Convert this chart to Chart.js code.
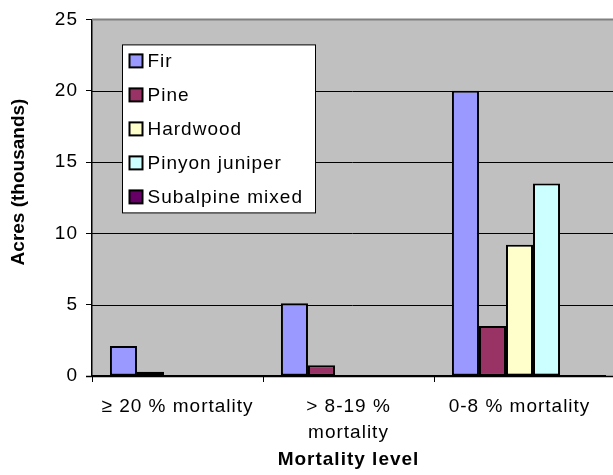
<!DOCTYPE html>
<html lang="en">
<head>
    <meta charset="UTF-8">
    <title>Acres by mortality level and forest type</title>
    <script src="https://cdn.jsdelivr.net/npm/chart.js"></script>
    <style>
        body {
            margin: 0;
            padding: 0;
            background: #fff;
        }
        #wrap {
            width: 613px;
            height: 475px;
        }
    </style>
</head>
<body>
    <div id="wrap"><canvas id="mortChart" width="613" height="475"></canvas></div>
    <script>
        // categories (mortality level) and acres in thousands per forest type
        const categories = ['≥ 20 % mortality', ['> 8-19 %', 'mortality'], '0-8 % mortality'];
        const fir = [2.1, 5.1, 20];
        const pine = [0.3, 0.75, 3.5];
        const hardwood = [0, 0, 9.2];
        const pinyonJuniper = [0, 0, 13.5];
        const subalpineMixed = [0, 0, 0.05];
        const yTicks = [0, 5, 10, 15, 20, 25];

        const FONT = 'Arial, "Liberation Sans", sans-serif';
        Chart.defaults.font.family = FONT;
        Chart.defaults.color = '#000';

        const series = [
            { label: 'Fir', data: fir, color: '#9999FF' },
            { label: 'Pine', data: pine, color: '#993366' },
            { label: 'Hardwood', data: hardwood, color: '#FFFFCC' },
            { label: 'Pinyon juniper', data: pinyonJuniper, color: '#CCFFFF' },
            { label: 'Subalpine mixed', data: subalpineMixed, color: '#660066' }
        ];

        // the old office chart text is a bit wider than plain Arial
        const spacing = '1px';

        // gray plot background, gridlines, y title and the legend box inside the plot
        const excelLook = {
            id: 'excelLook',
            beforeUpdate(chart) {
                chart.ctx.letterSpacing = spacing;
            },
            beforeDraw(chart) {
                const { ctx, chartArea: a } = chart;
                ctx.letterSpacing = spacing;
                ctx.save();
                ctx.fillStyle = '#C0C0C0';
                ctx.fillRect(a.left, a.top, chart.width - a.left, a.bottom - a.top);
                ctx.restore();
            },
            beforeDatasetsDraw(chart) {
                const { ctx, chartArea: a, scales } = chart;
                ctx.save();
                ctx.strokeStyle = '#000';
                ctx.lineWidth = 1;
                yTicks.forEach(v => {
                    if (v === 0 || v === 25) return;
                    const y = Math.round(scales.y.getPixelForValue(v)) + 0.5;
                    ctx.beginPath();
                    ctx.moveTo(a.left, y);
                    ctx.lineTo(chart.width, y);
                    ctx.stroke();
                });
                ctx.restore();
            },
            afterDatasetsDraw(chart) {
                const { ctx, chartArea: a, scales } = chart;
                ctx.save();
                // top border of plot area
                ctx.strokeStyle = '#808080';
                ctx.lineWidth = 2;
                ctx.beginPath();
                ctx.moveTo(a.left, a.top);
                ctx.lineTo(chart.width, a.top);
                ctx.stroke();
                // x axis line across the whole width
                const y0 = Math.round(scales.y.getPixelForValue(0)) + 0.5;
                ctx.strokeStyle = '#000';
                ctx.lineWidth = 1.5;
                ctx.beginPath();
                ctx.moveTo(a.left - 6, y0);
                ctx.lineTo(chart.width, y0);
                ctx.stroke();

                // y axis title (not stretched in the original)
                ctx.letterSpacing = '0px';
                ctx.font = 'bold 19px ' + FONT;
                ctx.fillStyle = '#000';
                ctx.textAlign = 'center';
                ctx.textBaseline = 'middle';
                ctx.translate(19, 182);
                ctx.rotate(-Math.PI / 2);
                ctx.fillText('Acres (thousands)', 0, 0);
                ctx.setTransform(1, 0, 0, 1, 0, 0);

                // legend
                ctx.letterSpacing = spacing;
                const bx = a.left + 30.5, by = a.top + 25.5, bw = 193, bh = 168;
                ctx.fillStyle = '#fff';
                ctx.fillRect(bx, by, bw, bh);
                ctx.strokeStyle = '#000';
                ctx.lineWidth = 1;
                ctx.strokeRect(bx, by, bw, bh);
                ctx.font = '19px ' + FONT;
                ctx.textBaseline = 'middle';
                ctx.textAlign = 'left';
                chart.data.datasets.forEach((ds, i) => {
                    const cy = by + 16 + i * 34;
                    ctx.fillStyle = ds.backgroundColor;
                    ctx.fillRect(bx + 7, cy - 6.5, 13, 13);
                    ctx.lineWidth = 2;
                    ctx.strokeStyle = '#000';
                    ctx.strokeRect(bx + 7, cy - 6.5, 13, 13);
                    ctx.fillStyle = '#000';
                    ctx.fillText(ds.label, bx + 25, cy + 1);
                });
                ctx.restore();
            }
        };

        const ctx = document.getElementById('mortChart').getContext('2d');
        const mortChart = new Chart(ctx, {
            type: 'bar',
            data: {
                labels: categories,
                datasets: series.map(s => ({
                    label: s.label,
                    data: s.data,
                    backgroundColor: s.color,
                    borderColor: '#000',
                    borderWidth: 2,
                    borderSkipped: false,
                    categoryPercentage: 0.79,
                    barPercentage: 1
                }))
            },
            options: {
                responsive: false,
                devicePixelRatio: 1,
                animation: false,
                layout: { padding: { top: 17, right: 8, bottom: 0, left: 0 } },
                plugins: {
                    legend: { display: false },
                    tooltip: { enabled: false }
                },
                scales: {
                    x: {
                        afterFit(scale) { scale.height = 99; },
                        grid: {
                            drawOnChartArea: false,
                            tickLength: 6,
                            color: c => c.type === 'tick' ? '#000' : 'rgba(0,0,0,0)'
                        },
                        border: { color: '#000', width: 1.5 },
                        ticks: {
                            maxRotation: 0,
                            autoSkip: false,
                            padding: 12,
                            font: { size: 19, lineHeight: 1.37 }
                        },
                        title: {
                            display: true,
                            text: 'Mortality level',
                            font: { size: 19, weight: 'bold' },
                            padding: { top: 0, bottom: 4 }
                        }
                    },
                    y: {
                        min: 0,
                        max: 25,
                        afterFit(scale) { scale.width = 92; },
                        afterBuildTicks(scale) { scale.ticks = yTicks.map(v => ({ value: v })); },
                        grid: { drawOnChartArea: false, tickLength: 6, color: '#000' },
                        border: { color: '#000', width: 1.5 },
                        ticks: { padding: 8, font: { size: 19 } }
                    }
                }
            },
            plugins: [excelLook]
        });
    </script>
</body>
</html>
